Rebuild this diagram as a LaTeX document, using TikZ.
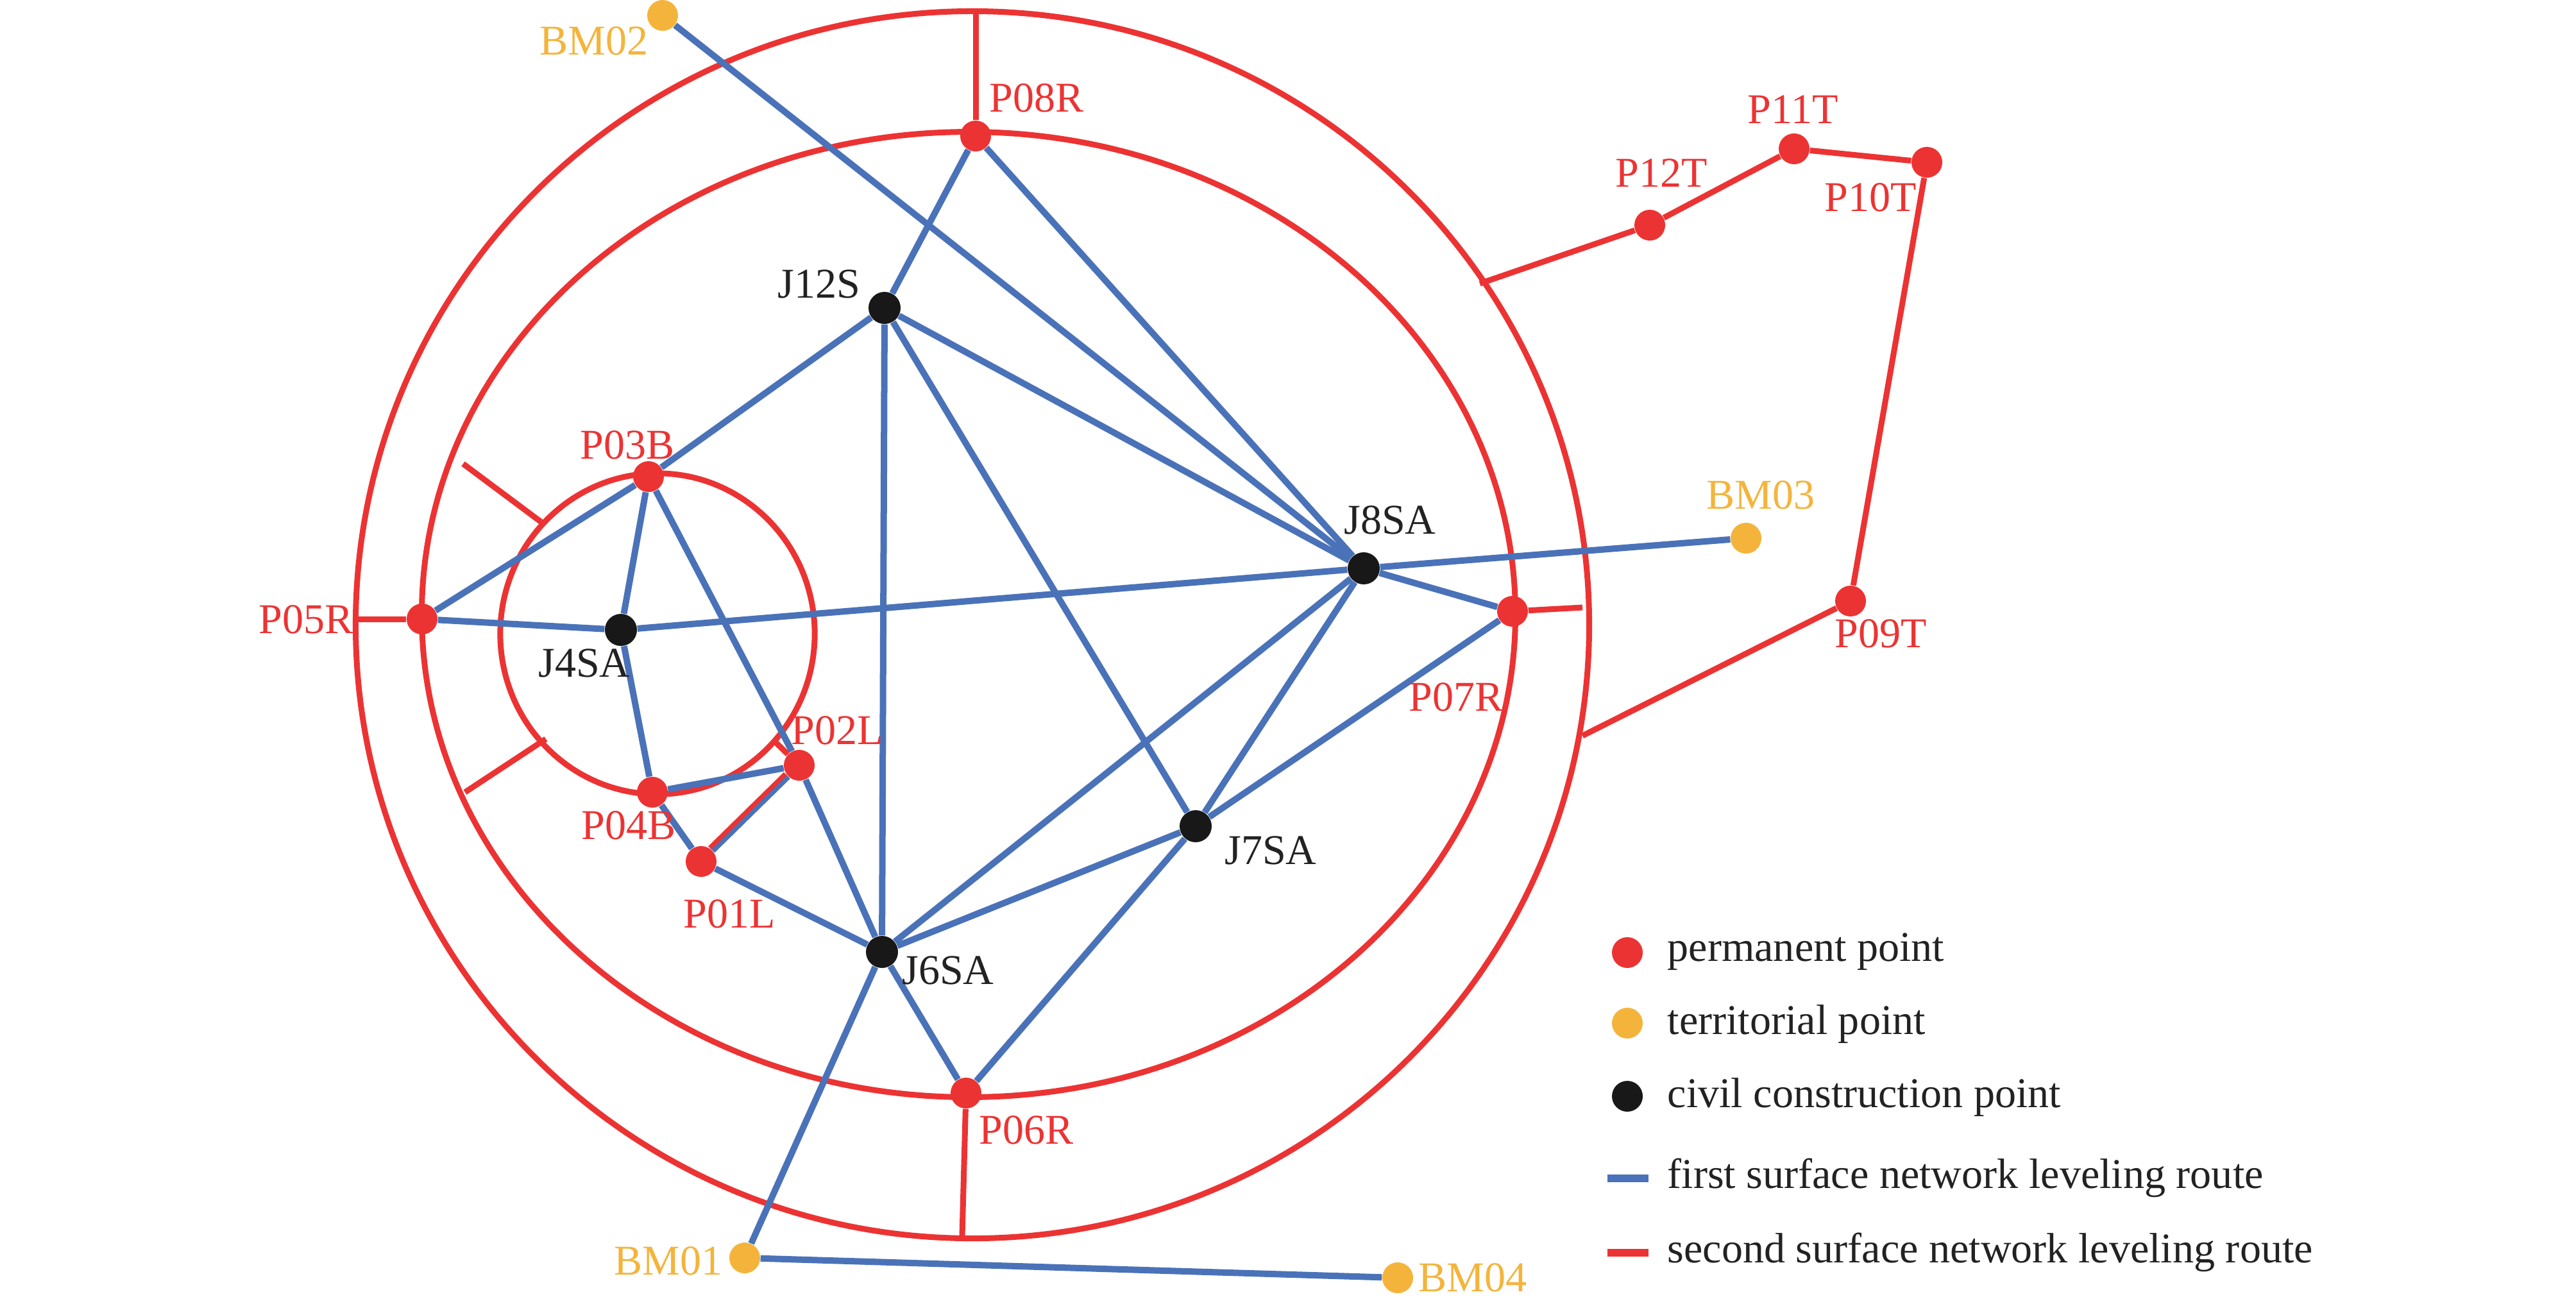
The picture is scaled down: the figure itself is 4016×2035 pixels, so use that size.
\documentclass[tikz,border=0pt]{standalone}
\usepackage{fontspec}
\setmainfont{Liberation Serif}
\pgfdeclarelayer{bg}
\pgfsetlayers{bg,main}
\definecolor{cred}{RGB}{236,51,51}
\definecolor{cblue}{RGB}{74,114,184}
\definecolor{corange}{RGB}{244,180,60}
\definecolor{cblack}{RGB}{24,24,24}
\definecolor{ctext}{RGB}{34,34,34}
\tikzset{
  pt/.style={circle, inner sep=0pt, minimum size=0.48cm},
  perm/.style={pt, fill=cred},
  terr/.style={pt, fill=corange},
  civil/.style={pt, fill=cblack, minimum size=0.5cm},
  bl/.style={cblue, line width=0.1cm},
  rd/.style={cred, line width=0.09cm},
  lbl/.style={inner sep=0pt, font=\fontsize{18.8}{22}\selectfont},
  rlbl/.style={lbl, text=cred},
  olbl/.style={lbl, text=corange},
  klbl/.style={lbl, text=ctext},
}
\begin{document}
\begin{tikzpicture}[x=0.01cm, y=-0.01cm]
\useasboundingbox (0,0) rectangle (4016,2035);

% points
\node[terr] (BM02) at (1033,24) {};
\node[perm] (P08R) at (1521,212) {};
\node[civil] (J12S) at (1379,480) {};
\node[perm] (P12T) at (2572,351) {};
\node[perm] (P11T) at (2797,232) {};
\node[perm] (P10T) at (3004,253) {};
\node[perm] (P03B) at (1011,743) {};
\node[terr] (BM03) at (2722,839) {};
\node[civil] (J8SA) at (2126,886) {};
\node[perm] (P07R) at (2358,953) {};
\node[perm] (P09T) at (2885,937) {};
\node[perm] (P05R) at (658,965) {};
\node[civil] (J4SA) at (968,982) {};
\node[perm] (P02L) at (1246,1193) {};
\node[perm] (P04B) at (1017,1235) {};
\node[perm] (P01L) at (1093,1343) {};
\node[civil] (J7SA) at (1864,1288) {};
\node[civil] (J6SA) at (1375,1484) {};
\node[perm] (P06R) at (1506,1704) {};
\node[terr] (BM01) at (1161,1961) {};
\node[terr] (BM04) at (2179,1992) {};

% free ends on the rings
\coordinate (o8) at (1521,20);
\coordinate (o6) at (1500,1926);
\coordinate (o5) at (557,965);
\coordinate (o7) at (2467,947);
\coordinate (o12) at (2307,442);
\coordinate (o9) at (2467,1147);
\coordinate (t1a) at (722,723);
\coordinate (t1b) at (848,817);
\coordinate (t2a) at (851,1152);
\coordinate (t2b) at (725,1235);
\coordinate (c2) at (1210,1158);

\begin{pgfonlayer}{bg}
% rings
\draw[rd] (1516,974) ellipse [x radius=9.61cm, y radius=9.56cm];
\draw[rd] (1510,958) ellipse [x radius=8.52cm, y radius=7.52cm];
\draw[rd] (1025,988) ellipse [x radius=2.45cm, y radius=2.50cm];

% first surface network (blue)
\draw[bl] (BM02) -- (J8SA);
\draw[bl] (P08R) -- (J12S);
\draw[bl] (P08R) -- (J8SA);
\draw[bl] (J12S) -- (P03B);
\draw[bl] (J12S) -- (J8SA);
\draw[bl] (J12S) -- (J6SA);
\draw[bl] (J12S) -- (J7SA);
\draw[bl] (P03B) -- (P05R);
\draw[bl] (P03B) -- (J4SA);
\draw[bl] (P03B) -- (P02L);
\draw[bl] (P02L) -- (J6SA);
\draw[bl] (P05R) -- (J4SA);
\draw[bl] (J4SA) -- (J8SA);
\draw[bl] (J8SA) -- (BM03);
\draw[bl] (J4SA) -- (P04B);
\draw[bl] (P04B) -- (P01L);
\draw[bl] (P04B) -- (P02L);
\draw[bl] (P01L) -- (P02L);
\draw[bl] (P01L) -- (J6SA);
\draw[bl] (J8SA) -- (P07R);
\draw[bl] (J8SA) -- (J6SA);
\draw[bl] (J8SA) -- (J7SA);
\draw[bl] (J7SA) -- (J6SA);
\draw[bl] (J7SA) -- (P07R);
\draw[bl] (J7SA) -- (P06R);
\draw[bl] (J6SA) -- (P06R);
\draw[bl] (J6SA) -- (BM01);
\draw[bl] (BM01) -- (BM04);

% second surface network (red)
\draw[rd] (P08R) -- (o8);
\draw[rd] (P06R) -- (o6);
\draw[rd] (P05R) -- (o5);
\draw[rd] (P07R) -- (o7);
\draw[rd] (t1a) -- (t1b);
\draw[rd] (t2a) -- (t2b);
\draw[rd] (c2) -- (P02L);
\draw[rd, line width=0.07cm, transform canvas={shift={(-4,-4)}}] (P01L) -- (P02L);
\draw[rd] (o12) -- (P12T) -- (P11T) -- (P10T) -- (P09T) -- (o9);
\end{pgfonlayer}

% labels
\node[olbl] (lBM02) at (926,64) {BM02};
\node[rlbl] (lP08R) at (1616,153) {P08R};
\node[klbl] (lJ12S) at (1277,443) {J12S};
\node[rlbl] (lP12T) at (2590,270) {P12T};
\node[rlbl] (lP11T) at (2795,171) {P11T};
\node[rlbl] (lP10T) at (2916,308) {P10T};
\node[olbl] (lBM03) at (2745,772) {BM03};
\node[klbl] (lJ8SA) at (2167,811) {J8SA};
\node[rlbl] (lP07R) at (2270,1087) {P07R};
\node[rlbl] (lP09T) at (2932,988) {P09T};
\node[rlbl] (lP03B) at (978,694) {P03B};
\node[klbl] (lJ4SA) at (911,1034) {J4SA};
\node[rlbl] (lP05R) at (477,966) {P05R};
\node[rlbl] (lP02L) at (1305,1139) {P02L};
\node[rlbl] (lP04B) at (980,1287) {P04B};
\node[rlbl] (lP01L) at (1137,1425) {P01L};
\node[klbl] (lJ6SA) at (1478,1513) {J6SA};
\node[klbl] (lJ7SA) at (1981,1326) {J7SA};
\node[rlbl] (lP06R) at (1600,1762) {P06R};
\node[olbl] (lBM01) at (1042,1966) {BM01};
\node[olbl] (lBM04) at (2296,1992) {BM04};

% legend
\node[perm] (gperm) at (2537,1485) {};
\node[terr] (gterr) at (2537,1595) {};
\node[civil, minimum size=0.48cm] (gcivil) at (2537,1709) {};
\coordinate (gb1) at (2506,1837);
\coordinate (gb2) at (2570,1837);
\coordinate (gr1) at (2506,1953);
\coordinate (gr2) at (2570,1953);
\draw[cblue, line width=0.12cm] (gb1) -- (gb2);
\draw[cred, line width=0.12cm] (gr1) -- (gr2);
\node[klbl, anchor=base west] (tperm) at (2599,1498) {permanent point};
\node[klbl, anchor=base west] (tterr) at (2599,1612) {territorial point};
\node[klbl, anchor=base west] (tcivil) at (2599,1726) {civil construction point};
\node[klbl, anchor=base west] (tfirst) at (2599,1852) {first surface network leveling route};
\node[klbl, anchor=base west] (tsecond) at (2599,1968) {second surface network leveling route};
\end{tikzpicture}
\end{document}
